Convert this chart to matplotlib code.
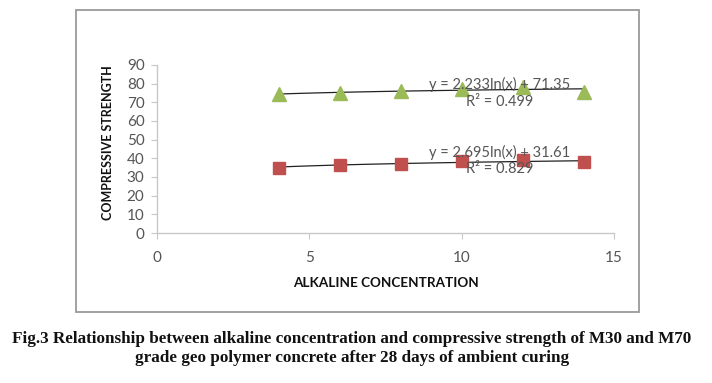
import numpy as np
import matplotlib
matplotlib.use("Agg")
import matplotlib.pyplot as plt
from matplotlib.patches import Rectangle

# Data
conc = [4, 6, 8, 10, 12, 14]
m70 = [74.2, 74.9, 76.0, 77.2, 78.1, 75.4]
m30 = [34.9, 36.2, 37.1, 38.4, 38.9, 37.8]
eq_m70 = "y = 2.233ln(x) + 71.35"
r2_m70 = "R² = 0.499"
eq_m30 = "y = 2.695ln(x) + 31.61"
r2_m30 = "R² = 0.829"
xlabel = "ALKALINE CONCENTRATION"
ylabel = "COMPRESSIVE STRENGTH"
caption = ("Fig.3 Relationship between alkaline concentration and compressive strength of M30 and M70\n"
           "grade geo polymer concrete after 28 days of ambient curing")

W, H = 712, 383
fig = plt.figure(figsize=(W / 100, H / 100), dpi=100)

# chart frame
fig.patches.append(Rectangle((76 / W, 1 - 312 / H), (639 - 76) / W, (312 - 10) / H,
                             transform=fig.transFigure, fill=False,
                             edgecolor="#9a9a9a", linewidth=1.3))

ax = fig.add_axes([157 / W, 1 - 233 / H, (614 - 157) / W, (233 - 65) / H])
ax.set_xlim(0, 15)
ax.set_ylim(0, 90)
ax.set_xticks([0, 5, 10, 15])
ax.set_yticks(range(0, 91, 10))
for s in ["top", "right"]:
    ax.spines[s].set_visible(False)
for s in ["left", "bottom"]:
    ax.spines[s].set_color("#c8c8c8")
    ax.spines[s].set_linewidth(1.0)
ax.tick_params(colors="#c8c8c8", labelcolor="#555555", length=4, labelsize=11)
for lab in ax.get_xticklabels() + ax.get_yticklabels():
    lab.set_fontfamily("Lato")
ax.tick_params(axis="x", pad=9)
ax.tick_params(axis="y", pad=5)

# log trendlines
xs = np.linspace(min(conc), max(conc), 100)
ax.plot(xs, 2.233 * np.log(xs) + 71.35, color="#222222", lw=0.9, zorder=2)
ax.plot(xs, 2.695 * np.log(xs) + 31.61, color="#222222", lw=0.9, zorder=2)

ax.plot(conc, m70, linestyle="none", marker="^", markersize=9.5,
        color="#9BBB59", zorder=3, clip_on=False)
ax.plot(conc, m30, linestyle="none", marker="s", markersize=9,
        color="#C0504D", zorder=3, clip_on=False)

tk = dict(fontfamily="Lato", fontsize=10.5, color="#555555", ha="center", va="center", zorder=4)
ax.text(11.26, 79.5, eq_m70, **tk)
ax.text(11.26, 70.3, r2_m70, **tk)
ax.text(11.26, 43.4, eq_m30, **tk)
ax.text(11.26, 34.3, r2_m30, **tk)

fig.text(386 / W, 1 - 283 / H, xlabel, fontfamily="Lato", fontweight="bold",
         fontsize=9.7, color="#111111", ha="center", va="center")
fig.text(108 / W, 1 - 143 / H, ylabel, fontfamily="Lato", fontweight="bold",
         fontsize=9, color="#111111", ha="center", va="center", rotation=90)

fig.text(352 / W, 1 - 348.5 / H, caption, fontfamily="Liberation Serif", fontweight="bold",
         fontsize=12.35, color="#111111", ha="center", va="center", linespacing=1.23)

fig.savefig("out.png", dpi=100)
